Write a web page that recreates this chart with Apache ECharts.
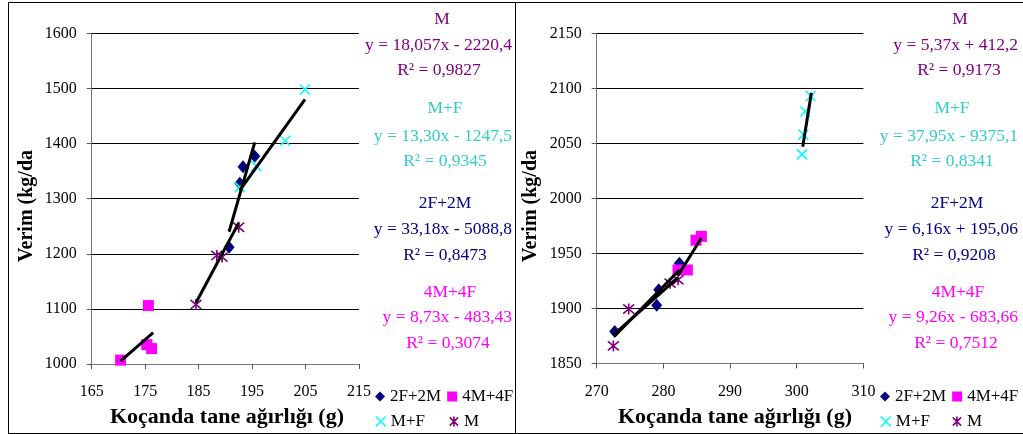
<!DOCTYPE html>
<html><head><meta charset="utf-8">
<script src="https://cdn.jsdelivr.net/npm/echarts@6/dist/echarts.min.js"></script>
<style>html,body{margin:0;padding:0;background:#fff}#c{width:1023px;height:434px}</style>
</head><body><div id="c"></div>
<script>
// ---------- data ----------
const seriesNames = ['2F+2M', '4M+4F', 'M+F', 'M'];
const markerColors = ['#000080', '#FF00FF', '#00FFFF', '#800080'];
const annoColors = ['#800080', '#33CCCC', '#000080', '#FF00FF']; // M, M+F, 2F+2M, 4M+4F

// Left chart (x: Koçanda tane ağırlığı, y: Verim)
const leftX_2F2M = [193.3, 195.5, 192.7, 190.7];
const leftY_2F2M = [1358, 1377, 1328, 1212];
const leftX_4M4F = [170.4, 175.6, 175.3, 176.2];
const leftY_4M4F = [1007, 1106, 1035, 1028];
const leftX_MF = [204.9, 201.2, 195.8, 192.7];
const leftY_MF = [1498, 1405, 1359, 1321];
const leftX_M = [184.5, 188.4, 189.4, 192.5];
const leftY_M = [1108, 1197, 1194, 1248];

// Left trendline end points
const leftTrendX_2F2M = [190.7, 195.5], leftTrendY_2F2M = [1240, 1402];
const leftTrendX_4M4F = [170.4, 176.5], leftTrendY_4M4F = [1005, 1057];
const leftTrendX_MF = [192.7, 204.9], leftTrendY_MF = [1315, 1480];
const leftTrendX_M = [184.5, 192.5], leftTrendY_M = [1111, 1256];

// Right chart
const rightX_2F2M = [272.7, 279.0, 279.3, 282.4];
const rightY_2F2M = [1879, 1903, 1917, 1941];
const rightX_4M4F = [284.9, 285.7, 282.2, 283.6];
const rightY_4M4F = [1962, 1965.5, 1935, 1935];
const rightX_MF = [300.8, 301.0, 301.3, 302.1];
const rightY_MF = [2040, 2058, 2079, 2093];
const rightX_M = [272.5, 274.8, 281.0, 282.2];
const rightY_M = [1866, 1899.5, 1923, 1926];

const rightTrendX_2F2M = [272.7, 282.4], rightTrendY_2F2M = [1875, 1935];
const rightTrendX_4M4F = [282.2, 285.7], rightTrendY_4M4F = [1930, 1964];
const rightTrendX_MF = [300.9, 302.2], rightTrendY_MF = [2047, 2096];
const rightTrendX_M = [272.5, 282.2], rightTrendY_M = [1876, 1928];

// ticks
const leftXTicks = [165, 175, 185, 195, 205, 215];
const leftYMin = 1000, leftYMax = 1600, leftYStep = 100;
const rightXMin = 270, rightXMax = 310, rightXStep = 10;
const rightYMin = 1850, rightYMax = 2150, rightYStep = 50;

// texts
const xTitle = 'Koçanda tane ağırlığı (g)';
const yTitle = 'Verim (kg/da';
const annoTitles = ['M', 'M+F', '2F+2M', '4M+4F'];
const leftAnnoEq = ['y = 18,057x - 2220,4', 'y = 13,30x - 1247,5', 'y = 33,18x - 5088,8', 'y = 8,73x - 483,43'];
const leftAnnoR2 = ['R² = 0,9827', 'R² = 0,9345', 'R² = 0,8473', 'R² = 0,3074'];
const rightAnnoEq = ['y = 5,37x + 412,2', 'y = 37,95x - 9375,1', 'y = 6,16x + 195,06', 'y = 9,26x - 683,66'];
const rightAnnoR2 = ['R² = 0,9173', 'R² = 0,8341', 'R² = 0,9208', 'R² = 0,7512'];

// ---------- build ----------
const FONT = '"Liberation Serif", "Times New Roman", serif';
const zip = (xs, ys) => xs.map((x, i) => [x, ys[i]]);
const symX = 'path://M0,0L10,10M10,0L0,10';
const symAst = 'path://M0,0L10,10M10,0L0,10M5,-1L5,11';
const symbols = ['diamond', 'rect', symX, symAst];
const symbolSizes = [[11, 13], 11, 10, 11];

function scatter(idx, xs, ys, axis) {
  const stroked = idx >= 2;
  return {
    type: 'scatter', name: seriesNames[idx], xAxisIndex: axis, yAxisIndex: axis,
    data: zip(xs, ys), symbol: symbols[idx], symbolSize: symbolSizes[idx],
    symbolKeepAspect: false,
    itemStyle: stroked ? { color: markerColors[idx], borderColor: markerColors[idx], borderWidth: 1.6, opacity: 1 }
                       : { color: markerColors[idx], borderWidth: 0, opacity: 1 },
    emphasis: { disabled: true }, z: 3
  };
}
function trend(name, xs, ys, axis) {
  return {
    type: 'line', name: name, xAxisIndex: axis, yAxisIndex: axis,
    data: zip(xs, ys), showSymbol: false, symbol: 'none', silent: true,
    lineStyle: { color: '#000', width: 3 }, z: 5, animation: false
  };
}

const plainNum = v => String(v);
const axisCommon = {
  axisLine: { show: true, lineStyle: { color: '#777', width: 1 } },
  axisTick: { show: true, length: 5, lineStyle: { color: '#555' } },
  axisLabel: { color: '#000', fontFamily: FONT, fontSize: 16, formatter: plainNum },
};

const graphics = [];
function addText(x, y, text, color, opts) {
  opts = opts || {};
  graphics.push({
    type: 'text', x: x, y: y, silent: true,
    rotation: opts.rotation || 0, scaleX: opts.scaleX || 1,
    style: { text: text, fill: color, font: opts.font || ('17.5px ' + FONT),
             align: opts.align || 'center', verticalAlign: 'middle' }
  });
}
// frames
graphics.push({ type: 'rect', shape: { x: 8.5, y: 2.5, width: 507, height: 431 }, style: { fill: 'none', stroke: '#000', lineWidth: 1 }, silent: true });
graphics.push({ type: 'rect', shape: { x: 515.5, y: 2.5, width: 520, height: 431 }, style: { fill: 'none', stroke: '#000', lineWidth: 1 }, silent: true });

// annotations
const leftTitleX = [442, 445, 445, 450], leftR2X = [439, 445, 445, 448];
const rightTitleX = [960, 952, 957, 958], rightR2X = [959, 952, 954, 956];
const titleY = [19, 108, 203, 292], eqY = [45, 136, 229, 317], r2Y = [70, 161, 255, 343];
for (let i = 0; i < 4; i++) {
  addText(leftTitleX[i], titleY[i], annoTitles[i], annoColors[i]);
  addText(512, eqY[i], leftAnnoEq[i], annoColors[i], { align: 'right' });
  addText(leftR2X[i], r2Y[i], leftAnnoR2[i], annoColors[i]);
  addText(rightTitleX[i], titleY[i], annoTitles[i], annoColors[i]);
  addText(1018, eqY[i], rightAnnoEq[i], annoColors[i], { align: 'right' });
  addText(rightR2X[i], r2Y[i], rightAnnoR2[i], annoColors[i]);
}
// axis titles
const boldFont = 'bold 20px ' + FONT;
addText(227, 418, xTitle, '#000', { font: boldFont, scaleX: 1.1 });
addText(735, 418, xTitle, '#000', { font: boldFont, scaleX: 1.1 });
addText(27, 206, yTitle, '#000', { font: boldFont, rotation: Math.PI / 2 });
addText(531, 206, yTitle, '#000', { font: boldFont, rotation: Math.PI / 2 });

const legendBase = {
  padding: 0, itemWidth: 10, itemHeight: 10, selectedMode: false, orient: 'horizontal',
  textStyle: { color: '#000', fontFamily: FONT, fontSize: 17 }
};

const option = {
  animation: false,
  backgroundColor: '#fff',
  grid: [
    { left: 91.7, top: 33.3, width: 267.3, height: 330.7, containLabel: false },
    { left: 596.7, top: 33.3, width: 266.7, height: 330.2, containLabel: false }
  ],
  xAxis: [
    Object.assign({}, axisCommon, {
      type: 'value', gridIndex: 0, min: leftXTicks[0], max: leftXTicks[leftXTicks.length - 1],
      splitLine: { show: false },
      axisTick: Object.assign({}, axisCommon.axisTick, { customValues: leftXTicks }),
      axisLabel: Object.assign({}, axisCommon.axisLabel, { customValues: leftXTicks, margin: 20 })
    }),
    Object.assign({}, axisCommon, {
      type: 'value', gridIndex: 1, min: rightXMin, max: rightXMax, interval: rightXStep,
      splitLine: { show: false },
      axisLabel: Object.assign({}, axisCommon.axisLabel, { margin: 20 })
    })
  ],
  yAxis: [
    Object.assign({}, axisCommon, {
      type: 'value', gridIndex: 0, min: leftYMin, max: leftYMax, interval: leftYStep,
      splitLine: { show: true, lineStyle: { color: '#000', width: 1 } },
      axisLabel: Object.assign({}, axisCommon.axisLabel, { margin: 15 })
    }),
    Object.assign({}, axisCommon, {
      type: 'value', gridIndex: 1, min: rightYMin, max: rightYMax, interval: rightYStep,
      splitLine: { show: true, lineStyle: { color: '#000', width: 1 } },
      axisLabel: Object.assign({}, axisCommon.axisLabel, { margin: 15 })
    })
  ],
  legend: [
    Object.assign({}, legendBase, { data: ['2F+2M', '4M+4F'], left: 375, top: 388, itemGap: 6 }),
    Object.assign({}, legendBase, { data: ['M+F', 'M'], left: 375, top: 413, itemGap: 24, itemStyle: { borderWidth: 1.6 } }),
    Object.assign({}, legendBase, { data: ['2F+2M', '4M+4F'], left: 880, top: 388, itemGap: 6 }),
    Object.assign({}, legendBase, { data: ['M+F', 'M'], left: 880, top: 413, itemGap: 22, itemStyle: { borderWidth: 1.6 } })
  ],
  series: [
    scatter(0, leftX_2F2M, leftY_2F2M, 0),
    scatter(1, leftX_4M4F, leftY_4M4F, 0),
    scatter(2, leftX_MF, leftY_MF, 0),
    scatter(3, leftX_M, leftY_M, 0),
    trend('trend 2F+2M', leftTrendX_2F2M, leftTrendY_2F2M, 0),
    trend('trend 4M+4F', leftTrendX_4M4F, leftTrendY_4M4F, 0),
    trend('trend M+F', leftTrendX_MF, leftTrendY_MF, 0),
    trend('trend M', leftTrendX_M, leftTrendY_M, 0),
    scatter(0, rightX_2F2M, rightY_2F2M, 1),
    scatter(1, rightX_4M4F, rightY_4M4F, 1),
    scatter(2, rightX_MF, rightY_MF, 1),
    scatter(3, rightX_M, rightY_M, 1),
    trend('trend 2F+2M', rightTrendX_2F2M, rightTrendY_2F2M, 1),
    trend('trend 4M+4F', rightTrendX_4M4F, rightTrendY_4M4F, 1),
    trend('trend M+F', rightTrendX_MF, rightTrendY_MF, 1),
    trend('trend M', rightTrendX_M, rightTrendY_M, 1)
  ],
  graphic: graphics
};

const chart = echarts.init(document.getElementById('c'), null, { renderer: 'canvas' });
chart.setOption(option);
</script>
</body></html>
